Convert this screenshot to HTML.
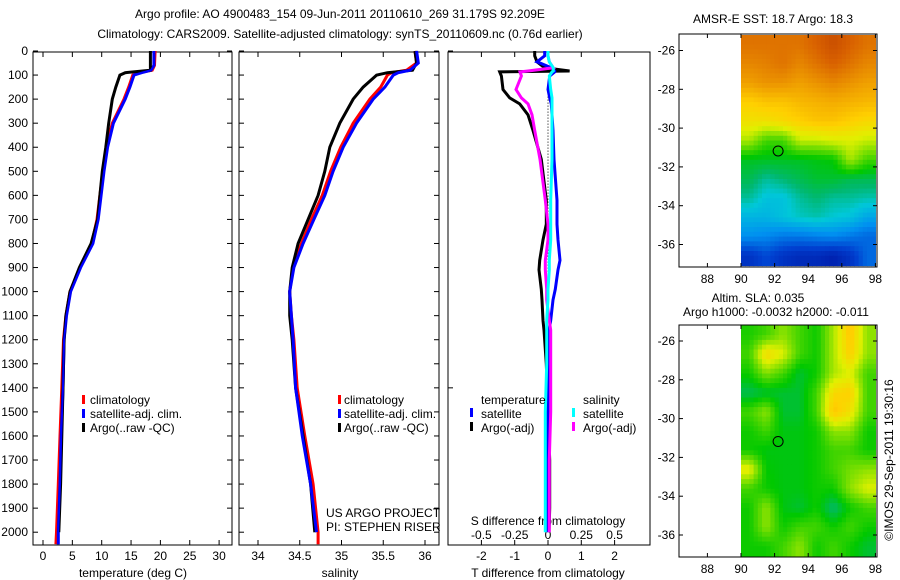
<!DOCTYPE html>
<html><head><meta charset="utf-8"><style>
body{margin:0;background:#fff;}
svg{display:block;font-family:"Liberation Sans",sans-serif;}
text{fill:#000;font-size:12px;}
</style></head><body>
<svg id="c" width="900" height="580" viewBox="0 0 900 580"></svg>
<script>
// ---- data ----
const tDepths=[0,60,80,90,100,150,200,300,400,500,600,700,800,900,1000,1100,1200,1400,1600,1800,2000,2050];
const tempClim=[19.1,19.0,18.6,16.5,15.3,14.6,13.8,11.8,10.8,10.2,9.7,9.2,8.3,6.3,4.6,3.9,3.5,3.2,2.9,2.6,2.3,2.2];
const tempSat=[18.9,18.9,18.4,16.8,15.5,14.8,14.0,12.0,11.0,10.4,9.9,9.4,8.5,6.4,4.7,4.0,3.6,3.4,3.1,2.9,2.6,2.6];
const tempArgo=[18.3,18.3,18.3,14.0,13.1,12.4,11.8,11.2,10.7,10.1,9.7,9.3,8.2,6.2,4.6,3.9,3.6,3.4,3.2,3.0,2.7,2.7];
const sDepths=[0,50,80,90,100,150,200,300,400,500,600,700,800,900,1000,1100,1200,1400,1600,1800,2000,2050];
const salClim=[35.88,35.9,35.78,35.6,35.55,35.47,35.34,35.14,34.99,34.87,34.77,34.64,34.52,34.42,34.38,34.4,34.43,34.47,34.56,34.66,34.72,34.72];
const salSat=[35.9,35.92,35.82,35.68,35.62,35.52,35.38,35.18,35.02,34.9,34.8,34.67,34.54,34.43,34.38,34.4,34.42,34.45,34.53,34.63,34.7,34.7];
const salArgo=[35.88,35.9,35.85,35.55,35.42,35.26,35.14,34.98,34.86,34.8,34.72,34.6,34.48,34.41,34.38,34.38,34.41,34.45,34.54,34.63,34.68,34.68];
const dDepths=[0,20,45,70,83,87,104,160,195,220,265,330,450,620,720,785,870,910,990,1035,1120,1160,1300,1500,1700,1900,2000];
const dTArgo=[-0.4,-0.4,-0.33,-0.1,0.65,-1.45,-1.4,-1.35,-1.15,-0.85,-0.6,-0.45,-0.2,-0.05,-0.05,-0.15,-0.25,-0.27,-0.2,-0.18,-0.15,-0.12,-0.05,0,0.05,0.05,0.03];
const dTSat=[-0.1,-0.1,-0.33,0.1,0.2,0.2,0.05,0.0,0.05,0.1,0.12,0.15,0.18,0.27,0.27,0.3,0.36,0.3,0.22,0.15,0.08,0.03,0,0,0,0,0];
const dSSat=[0,0,0.01,0.04,0.04,0.03,0.01,0.02,0.03,0.03,0.03,0.03,0.03,0.02,0.02,0.02,0.01,0.01,0,0,-0.01,-0.01,-0.01,-0.02,-0.02,-0.02,-0.02];
const dSArgo=[0,0,0.01,0.04,-0.15,-0.21,-0.2,-0.24,-0.2,-0.15,-0.12,-0.1,-0.06,-0.02,0,0,-0.02,-0.02,-0.01,-0.01,0.01,0.02,0.02,0.02,0.01,0.01,0.01];
const depthTicks=[0,100,200,300,400,500,600,700,800,900,1000,1100,1200,1300,1400,1500,1600,1700,1800,1900,2000];
const tempTicks=[0,5,10,15,20,25,30];
const salTicks=[34,34.5,35,35.5,36];
const dTTicks=[-2,-1,0,1,2];
const dSTicks=[-0.5,-0.25,0,0.25,0.5];
const lonTicks=[88,90,92,94,96,98];
const latTicks=[-26,-28,-30,-32,-34,-36];
const sstGrid=[
[0.85,0.85,0.85,0.85,0.88,0.92,0.88,0.85],
[0.82,0.83,0.85,0.82,0.85,0.88,0.85,0.82],
[0.78,0.8,0.8,0.78,0.8,0.82,0.8,0.78],
[0.7,0.72,0.72,0.74,0.75,0.76,0.75,0.74],
[0.66,0.66,0.68,0.7,0.72,0.72,0.7,0.68],
[0.58,0.5,0.5,0.6,0.6,0.62,0.62,0.6],
[0.43,0.43,0.43,0.43,0.44,0.45,0.58,0.5],
[0.4,0.36,0.38,0.4,0.42,0.42,0.4,0.4],
[0.36,0.32,0.32,0.36,0.38,0.36,0.36,0.35],
[0.3,0.3,0.32,0.34,0.35,0.33,0.32,0.28],
[0.25,0.24,0.22,0.22,0.23,0.24,0.22,0.2],
[0.12,0.16,0.12,0.1,0.1,0.08,0.12,0.2]];
const slaGrid=[
[0.47,0.5,0.56,0.5,0.46,0.58,0.72,0.56],
[0.5,0.68,0.62,0.5,0.46,0.58,0.7,0.56],
[0.46,0.55,0.5,0.42,0.46,0.58,0.62,0.5],
[0.4,0.42,0.42,0.42,0.5,0.68,0.7,0.5],
[0.5,0.56,0.42,0.42,0.5,0.72,0.66,0.5],
[0.46,0.5,0.44,0.44,0.46,0.56,0.56,0.46],
[0.46,0.44,0.44,0.44,0.46,0.5,0.5,0.46],
[0.64,0.45,0.44,0.44,0.46,0.5,0.54,0.56],
[0.5,0.46,0.44,0.44,0.46,0.46,0.56,0.62],
[0.46,0.56,0.44,0.42,0.46,0.38,0.46,0.5],
[0.46,0.56,0.46,0.5,0.5,0.46,0.5,0.46],
[0.46,0.46,0.5,0.56,0.46,0.5,0.46,0.42]];
const gridLat0=-25.2, gridLatStep=-0.99, gridLon0=90, gridLonStep=1;
const argoLon=92.209, argoLat=-31.179;

// ---- helpers ----
const svg=document.getElementById('c');
const NS='http://www.w3.org/2000/svg';
function el(tag,attrs,parent){const e=document.createElementNS(NS,tag);for(const k in attrs)e.setAttribute(k,attrs[k]);(parent||svg).appendChild(e);return e;}
function txt(x,y,s,anchor,name,size){const t=el('text',{x:x,y:y,'text-anchor':anchor||'start'});if(size)t.setAttribute('font-size',size);t.textContent=s;


return t;}
const Y=d=>51+d*0.2406;
const X1=v=>43+v*5.87;
const X2=v=>258+(v-34)*83.5;
const XT=v=>548+v*33.3;
const XS=v=>548+v*133.2;
function stepLine(depths,vals,xf,color,name,w){
  let p='';for(let i=0;i<vals.length;i++){const x=xf(vals[i]).toFixed(1),y=Y(depths[i]).toFixed(1);p+=(i?' L':'M')+x+' '+y;}
  const l=el('path',{d:p,fill:'none',stroke:color,'stroke-width':w||3,'stroke-linejoin':'miter'});
  
  
}
function box(x0,y0,x1,y1,name){const r=el('rect',{x:x0,y:y0,width:x1-x0,height:y1-y0,fill:'none',stroke:'#000','stroke-width':1});

}
function tick(x1,y1,x2,y2){el('line',{x1:x1,y1:y1,x2:x2,y2:y2,stroke:'#000','stroke-width':1});}

// titles
txt(340,18,'Argo profile: AO 4900483_154 09-Jun-2011 20110610_269 31.179S 92.209E','middle','title-line-1',14);
txt(340,38,'Climatology: CARS2009. Satellite-adjusted climatology: synTS_20110609.nc (0.76d earlier)','middle','title-line-2',14);

const TOP=52,BOT=545;
// panel 1
box(33,TOP,232,BOT,'temperature-panel');
depthTicks.forEach(d=>{tick(33,Y(d),38,Y(d));tick(227,Y(d),232,Y(d));txt(28,Y(d)+4,String(d),'end','depth-tick-label');});
tempTicks.forEach(v=>{tick(X1(v),BOT,X1(v),BOT-5);tick(X1(v),TOP,X1(v),TOP+5);txt(X1(v),560,String(v),'middle','temp-tick-label');});
txt(133,577,'temperature (deg C)','middle','x-axis-title-temperature');
stepLine(tDepths,tempClim,X1,'#f00','temp-climatology-line');
stepLine(tDepths,tempSat,X1,'#00f','temp-satellite-line');
stepLine(tDepths.slice(0,21),tempArgo.slice(0,21),X1,'#000','temp-argo-line');
stepLine(tDepths,tempSat,X1,'#00f','temp-satellite-line-top',2);
[['#f00','climatology'],['#00f','satellite-adj. clim.'],['#000','Argo(..raw -QC)']].forEach((l,i)=>{
  const r=el('rect',{x:82,y:395+i*14,width:3,height:9,fill:l[0]});
  
  
  txt(90,404+i*14,l[1],'start','legend-entry');});

// panel 2
box(239,TOP,439,BOT,'salinity-panel');
depthTicks.forEach(d=>{tick(239,Y(d),244,Y(d));tick(434,Y(d),439,Y(d));});
salTicks.forEach(v=>{tick(X2(v),BOT,X2(v),BOT-5);tick(X2(v),TOP,X2(v),TOP+5);txt(X2(v),560,String(v),'middle','salinity-tick-label');});
txt(340,577,'salinity','middle','x-axis-title-salinity');
stepLine(sDepths,salClim,X2,'#f00','sal-climatology-line');
stepLine(sDepths.slice(0,21),salArgo.slice(0,21),X2,'#000','sal-argo-line');
stepLine(sDepths.slice(0,21),salSat.slice(0,21),X2,'#00f','sal-satellite-line');
[['#f00','climatology'],['#00f','satellite-adj. clim.'],['#000','Argo(..raw -QC)']].forEach((l,i)=>{
  const r=el('rect',{x:338,y:395+i*14,width:3,height:9,fill:l[0]});
  
  
  txt(344,404+i*14,l[1],'start','legend-entry');});
txt(326,517,'US ARGO PROJECT','start','project-label');
txt(326,531,'PI: STEPHEN RISER','start','pi-label');

// panel 3
box(448,TOP,650,BOT,'difference-panel');
tick(448,Y(1400),453,Y(1400)); tick(448,Y(0),453,Y(0));
dTTicks.forEach(v=>{tick(XT(v),BOT,XT(v),BOT-5);tick(XT(v),TOP,XT(v),TOP+5);txt(XT(v),560,String(v),'middle','dT-tick-label');});
dSTicks.forEach(v=>{txt(XS(v),539,String(v),'middle','dS-tick-label');});
txt(548,577,'T difference from climatology','middle','x-axis-title-dT');
txt(548,525,'S difference from climatology','middle','x-axis-title-dS');
el('line',{x1:548,y1:Y(140),x2:548,y2:Y(1000),stroke:'#000','stroke-width':1,'stroke-dasharray':'1,2'});
stepLine(dDepths,dTArgo,XT,'#000','dT-argo-line');
stepLine(dDepths,dTSat,XT,'#00f','dT-satellite-line');
stepLine(dDepths,dSArgo,XS,'#f0f','dS-argo-line');
stepLine(dDepths,dSSat,XS,'#0ff','dS-satellite-line');
txt(481,404,'temperature','start','legend-title-temperature');
txt(583,404,'salinity','start','legend-title-salinity');
[[470,'#00f','satellite'],[470,'#000','Argo(-adj)'],[572,'#0ff','satellite'],[572,'#f0f','Argo(-adj)']].forEach((l,i)=>{
  const row=i%2;const r=el('rect',{x:l[0],y:408+row*14,width:3,height:9,fill:l[1]});
  
  
  txt(l[0]+11,418+row*14,l[2],'start','legend-entry');});

// maps
const stops=[[0,[0,0,140]],[0.15,[0,64,208]],[0.25,[0,144,240]],[0.33,[0,200,216]],[0.38,[0,184,112]],[0.45,[0,200,0]],[0.55,[128,224,0]],[0.62,[224,240,0]],[0.7,[255,208,0]],[0.78,[240,160,0]],[0.88,[216,96,0]],[1,[176,48,0]]];
function cmap(v){for(let i=1;i<stops.length;i++){if(v<=stops[i][0]){const a=stops[i-1],b=stops[i];const t=(v-a[0])/(b[0]-a[0]);const c=a[1].map((x,k)=>Math.round(x+(b[1][k]-x)*t));return 'rgb('+c.join(',')+')';}}return 'rgb(176,48,0)';}
function sample(grid,r,c){
  const R=grid.length,C=grid[0].length;
  r=Math.max(0,Math.min(R-1,r));c=Math.max(0,Math.min(C-1,c));
  const r0=Math.floor(r),c0=Math.floor(c),r1=Math.min(R-1,r0+1),c1=Math.min(C-1,c0+1);
  const fr=r-r0,fc=c-c0;
  return grid[r0][c0]*(1-fr)*(1-fc)+grid[r0][c1]*(1-fr)*fc+grid[r1][c0]*fr*(1-fc)+grid[r1][c1]*fr*fc;
}
function drawMap(grid,y0,y1,lat26y,name){
  const LX=v=>741+(v-90)*16.8;
  const LY=v=>lat26y+(-26-v)*19.4;
  const g=el('g',{});
  
  
  const sub=4;
  const R=grid.length,C=grid[0].length;
  for(let ri=0;ri<R*sub;ri++)for(let ci=0;ci<C*sub;ci++){
    const la=gridLat0+ri/sub*gridLatStep, lo=gridLon0+ci/sub*gridLonStep;
    const ya=Math.max(LY(la),y0), yb=Math.min(LY(la+gridLatStep/sub),y1);
    const xa=LX(lo), xb=Math.min(LX(lo+gridLonStep/sub),877);
    if(yb<=ya||xb<=xa) continue;
    const v=sample(grid,(ri+0.5)/sub-0.5,(ci+0.5)/sub-0.5);
    el('rect',{x:xa.toFixed(1),y:ya.toFixed(1),width:(xb-xa+0.6).toFixed(1),height:(yb-ya+0.6).toFixed(1),fill:cmap(v)},g);
  }
  box(679,y0,877,y1,name+'-frame');
  lonTicks.forEach(v=>{tick(LX(v),y1,LX(v),y1-4);tick(LX(v),y0,LX(v),y0+4);txt(LX(v),y1+16,String(v),'middle','lon-tick-label');});
  latTicks.forEach(v=>{tick(679,LY(v),683,LY(v));tick(873,LY(v),877,LY(v));txt(675,LY(v)+4,String(v),'end','lat-tick-label');});
  const c=el('circle',{cx:LX(argoLon),cy:LY(argoLat),r:5,fill:'none',stroke:'#000','stroke-width':1});
  
  
}
txt(773,23,'AMSR-E SST: 18.7 Argo: 18.3','middle','sst-map-title');
drawMap(sstGrid,34,267,50.5,'sst-map');
txt(758,302,'Altim. SLA: 0.035','middle','sla-map-title-1');
txt(776,316,'Argo h1000: -0.0032 h2000: -0.011','middle','sla-map-title-2');
drawMap(slaGrid,325,557,341,'sla-map');
const v=txt(0,0,'©IMOS 29-Sep-2011 19:30:16','middle','imos-credit');
v.setAttribute('transform','translate(893,460) rotate(-90)');
</script>
</body></html>
